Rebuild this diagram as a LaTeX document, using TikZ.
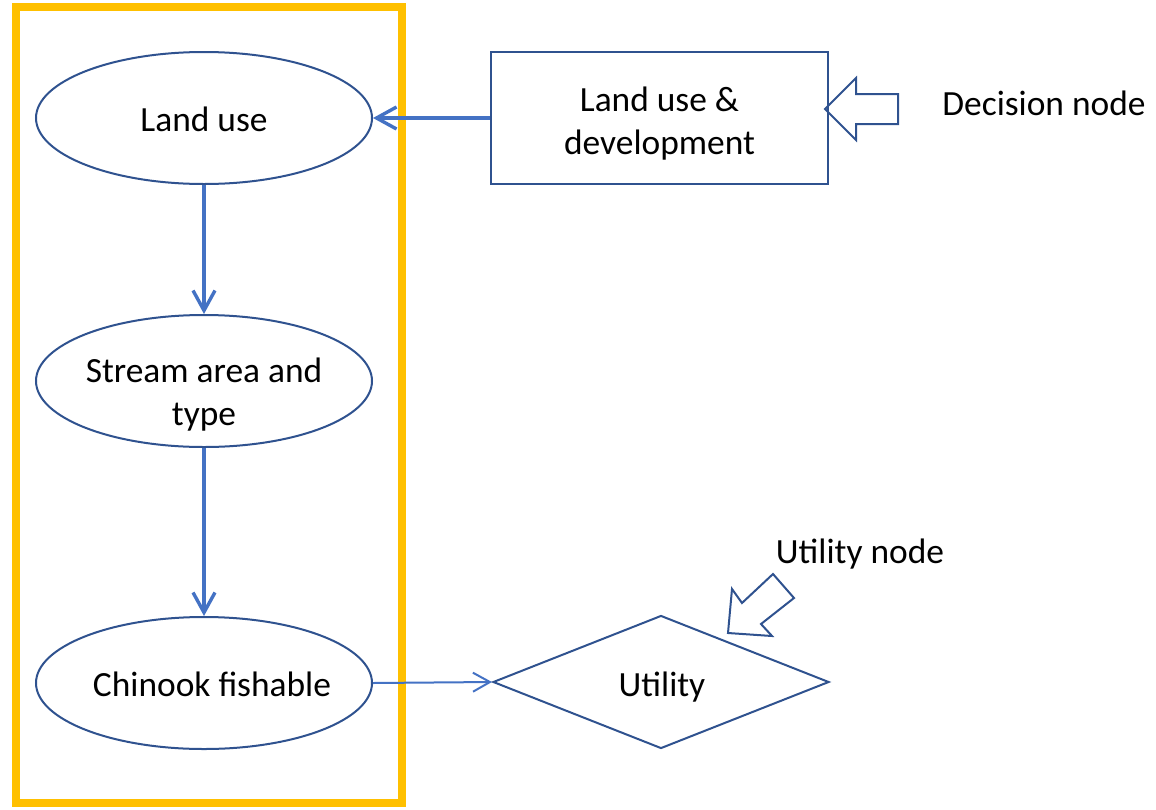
\documentclass[tikz,border=0pt]{standalone}
\usepackage{fontspec}
\setmainfont{Carlito}
\usetikzlibrary{arrows.meta,shapes.geometric}

\definecolor{shapeblue}{HTML}{2F528F}
\definecolor{arrowblue}{HTML}{4472C4}
\definecolor{boxyellow}{HTML}{FFC000}

\begin{document}
\begin{tikzpicture}[x=0.5pt, y=-0.5pt,
		every node/.style={font=\fontsize{17.7}{21.5}\selectfont, align=center},
		chance/.style={draw=shapeblue, line width=1pt, ellipse, inner sep=0pt, minimum width=168pt, minimum height=66pt},
		decision/.style={draw=shapeblue, line width=1pt, rectangle, inner sep=0pt, minimum width=168.5pt, minimum height=66pt},
		utility/.style={draw=shapeblue, line width=1pt, diamond, inner sep=0pt, minimum width=168pt, minimum height=66.5pt},
		thickarr/.style={draw=arrowblue, line width=1.7pt, -{Straight Barb[length=10pt, width=11pt]}},
		thinarr/.style={draw=arrowblue, line width=1pt, -{Straight Barb[length=8.5pt, width=9.5pt]}},
		blockarr/.style={draw=shapeblue, line width=1pt, line join=miter}]
		\useasboundingbox (0,0) rectangle (1156,809);
		\draw[boxyellow, line width=4pt] (16,7) rectangle (402,803);
		
		\node[chance, label={[yshift=-0.5pt]center:Land use}] (landuse) at (204,118) {};
		\node[chance, label={[yshift=-6.75pt]center:{Stream area and\\type}}] (stream) at (204,381) {};
		\node[chance, label={[xshift=4pt, yshift=-0.5pt]center:Chinook fishable}] (chinook) at (204,683) {};
		\node[decision, label={[yshift=-2.75pt]center:{Land use \&\\development}}] (develop) at (659.5,118) {};
		\node[utility, label={[xshift=0.5pt, yshift=-2.5pt]center:Utility}] (util) at (661,682) {};
		
		\node (decisionlabel) at (1044,103) {Decision node};
		\node (utilitylabel)  at (860,554) {Utility node};
		
		\draw[thickarr] (develop.west) -- (landuse.east);
		\draw[thickarr] (landuse.south) -- (stream.north);
		\draw[thickarr] (stream.south) -- (chinook.north);
		\draw[thinarr] (chinook.east) -- (util.west);
		
		% block arrows
		\draw[blockarr] (825,109) -- (856,78) -- (856,94) -- (898,94) -- (898,124) -- (856,124) -- (856,140) -- cycle;
		\draw[blockarr] (728,633) -- (732,589) -- (742,603) -- (773,574) -- (794,598) -- (761,624) -- (772,636) -- cycle;
	\end{tikzpicture}
\end{document}
